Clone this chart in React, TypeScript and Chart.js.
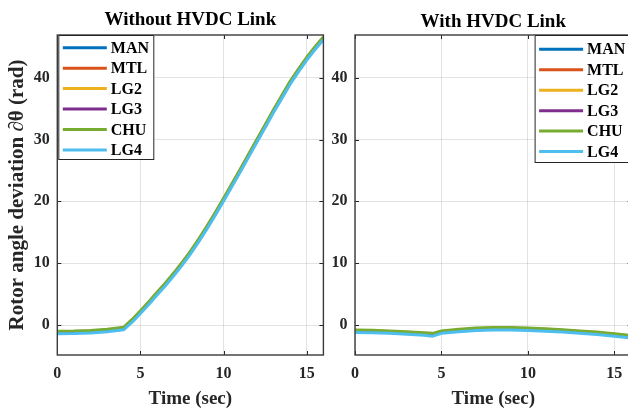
import React, { useEffect, useRef } from "react";
import { Chart, registerables } from "chart.js";

Chart.register(...registerables);

const FONT = "'Liberation Serif', 'Times New Roman', serif";

const seriesNames = ["MAN", "MTL", "LG2", "LG3", "CHU", "LG4"];
const seriesColors = ["#0072BD", "#D95319", "#EDB120", "#7E2F8E", "#77AC30", "#4DBEEE"];
const xTicks = [0, 5, 10, 15];
const yTicks = [0, 10, 20, 30, 40];
const titles = ["Without HVDC Link", "With HVDC Link"];
const xLabel = "Time (sec)";
const yLabel = "Rotor angle deviation \u2202\u03B8 (rad)";

// Without HVDC link
const timeWithout = [0, 1, 2, 3, 4, 4.5, 5, 5.5, 6, 6.5, 7, 7.5, 8, 8.5, 9, 9.5, 10, 10.5, 11, 11.5, 12, 12.5, 13, 13.5, 14, 14.5, 15, 15.5, 16];
const manWithout = [-1.2, -1.17, -1.08, -0.9, -0.55, 0.7, 2.1, 3.55, 5.1, 6.6, 8.2, 9.9, 11.7, 13.7, 15.8, 18.0, 20.3, 22.65, 25.0, 27.4, 29.8, 32.2, 34.6, 36.9, 39.2, 41.2, 43.1, 44.8, 46.4];
const mtlWithout = [-1.15, -1.12, -1.03, -0.85, -0.5, 0.75, 2.15, 3.6, 5.15, 6.65, 8.25, 9.95, 11.75, 13.75, 15.85, 18.05, 20.35, 22.7, 25.05, 27.45, 29.85, 32.25, 34.65, 36.95, 39.25, 41.25, 43.15, 44.85, 46.45];
const lg2Without = [-1.1, -1.07, -0.98, -0.8, -0.45, 0.8, 2.2, 3.65, 5.2, 6.7, 8.3, 10.0, 11.8, 13.8, 15.9, 18.1, 20.4, 22.75, 25.1, 27.5, 29.9, 32.3, 34.7, 37.0, 39.3, 41.3, 43.2, 44.9, 46.5];
const lg3Without = [-1.25, -1.22, -1.13, -0.95, -0.6, 0.65, 2.05, 3.5, 5.05, 6.55, 8.15, 9.85, 11.65, 13.65, 15.75, 17.95, 20.25, 22.6, 24.95, 27.35, 29.75, 32.15, 34.55, 36.85, 39.15, 41.15, 43.05, 44.75, 46.35];
const chuWithout = [-1.0, -0.97, -0.88, -0.7, -0.35, 0.9, 2.3, 3.75, 5.3, 6.8, 8.4, 10.1, 11.9, 13.9, 16.0, 18.2, 20.5, 22.85, 25.2, 27.6, 30.0, 32.4, 34.8, 37.1, 39.4, 41.4, 43.3, 45.0, 46.6];
const lg4Without = [-1.4, -1.37, -1.28, -1.1, -0.75, 0.45, 1.85, 3.3, 4.85, 6.35, 7.95, 9.65, 11.45, 13.45, 15.55, 17.75, 20.05, 22.4, 24.75, 27.15, 29.55, 31.95, 34.35, 36.65, 38.95, 40.95, 42.85, 44.55, 46.15];

// With HVDC link
const timeWith = [0, 1, 2, 3, 4, 4.5, 5, 6, 7, 8, 9, 10, 11, 12, 13, 14, 15, 16];
const manWith = [-1.0, -1.05, -1.15, -1.3, -1.45, -1.55, -1.15, -0.9, -0.7, -0.62, -0.6, -0.7, -0.8, -0.95, -1.15, -1.35, -1.6, -1.9];
const mtlWith = [-0.95, -1.0, -1.1, -1.25, -1.4, -1.5, -1.1, -0.85, -0.65, -0.57, -0.55, -0.65, -0.75, -0.9, -1.1, -1.3, -1.55, -1.85];
const lg2With = [-0.9, -0.95, -1.05, -1.2, -1.35, -1.45, -1.05, -0.8, -0.6, -0.52, -0.5, -0.6, -0.7, -0.85, -1.05, -1.25, -1.5, -1.8];
const lg3With = [-1.05, -1.1, -1.2, -1.35, -1.5, -1.6, -1.2, -0.95, -0.75, -0.67, -0.65, -0.75, -0.85, -1.0, -1.2, -1.4, -1.65, -1.95];
const chuWith = [-0.8, -0.85, -0.95, -1.1, -1.25, -1.35, -0.95, -0.7, -0.5, -0.42, -0.4, -0.5, -0.6, -0.75, -0.95, -1.15, -1.4, -1.7];
const lg4With = [-1.2, -1.25, -1.35, -1.5, -1.65, -1.8, -1.35, -1.1, -0.9, -0.82, -0.8, -0.9, -1.0, -1.15, -1.35, -1.55, -1.8, -2.1];

const yMin = -4.85;
const yMax = 46.9;
const xMin = 0;
const xMax = 16;

const GRID = "rgba(38,38,38,0.13)";
const AXIS = "#262626";

const boxPlugin = {
  id: "matlabBox",
  afterDatasetsDraw(chart: any) {
    const { ctx, chartArea, scales } = chart;
    const { left, right, top, bottom } = chartArea;
    ctx.save();
    ctx.strokeStyle = AXIS;
    ctx.lineWidth = 1;
    const tl = 4;
    ctx.beginPath();
    xTicks.forEach((v) => {
      const px = Math.round(scales.x.getPixelForValue(v)) + 0.5;
      ctx.moveTo(px, bottom);
      ctx.lineTo(px, bottom - tl);
      ctx.moveTo(px, top);
      ctx.lineTo(px, top + tl);
    });
    yTicks.forEach((v) => {
      const py = Math.round(scales.y.getPixelForValue(v)) + 0.5;
      ctx.moveTo(left, py);
      ctx.lineTo(left + tl, py);
      ctx.moveTo(right, py);
      ctx.lineTo(right - tl, py);
    });
    ctx.stroke();
    ctx.lineWidth = 1.4;
    ctx.strokeStyle = "#3a3a3a";
    ctx.strokeRect(left, top, right - left, bottom - top);
    ctx.restore();
  },
};

const legendPlugin = {
  id: "matlabLegend",
  afterDraw(chart: any, _args: any, opts: any) {
    const { ctx, chartArea } = chart;
    const w = 96;
    const h = opts.height;
    const bx = opts.side === "left" ? chartArea.left + 1 : chartArea.right - 1 - w;
    const by = chartArea.top;
    ctx.save();
    ctx.fillStyle = "#ffffff";
    ctx.fillRect(bx, by, w, h);
    ctx.strokeStyle = AXIS;
    ctx.lineWidth = 1;
    ctx.strokeRect(bx + 0.5, by + 0.5, w - 1, h - 1);
    ctx.font = `bold 16px ${FONT}`;
    ctx.textBaseline = "middle";
    ctx.textAlign = "left";
    chart.data.datasets.forEach((ds: any, i: number) => {
      const y = by + opts.firstRow + i * opts.rowGap;
      ctx.strokeStyle = ds.borderColor;
      ctx.lineWidth = 3;
      ctx.beginPath();
      ctx.moveTo(bx + 4.5, y);
      ctx.lineTo(bx + 48.5, y);
      ctx.stroke();
      ctx.fillStyle = "#000000";
      ctx.fillText(ds.label, bx + 52.5, y + 1);
    });
    ctx.restore();
  },
};

function makeConfig(p: any) {
  const tickFont = { family: FONT, size: 16, weight: "bold" as const };
  return {
    type: "line" as const,
    data: {
      datasets: p.series.map((vals: number[], i: number) => ({
        label: seriesNames[i],
        data: p.time.map((t: number, k: number) => ({ x: t, y: vals[k] })),
        borderColor: seriesColors[i],
        backgroundColor: seriesColors[i],
        borderWidth: 3,
        pointRadius: 0,
        tension: 0,
        fill: false,
        borderJoinStyle: "round",
        order: seriesNames.length - i,
      })),
    },
    options: {
      responsive: false,
      animation: false,
      devicePixelRatio: 1,
      events: [],
      layout: { padding: { left: 0, right: p.padRight, top: 0, bottom: 0 } },
      plugins: {
        legend: { display: false },
        tooltip: { enabled: false },
        title: {
          display: true,
          fullSize: false,
          text: p.title,
          color: "#000000",
          font: { family: FONT, size: 19, weight: "bold", lineHeight: 1.2 },
          padding: { top: p.titleTop, bottom: 35 - 22.8 - p.titleTop },
        },
        matlabLegend: p.legend,
      },
      scales: {
        x: {
          type: "linear",
          min: xMin,
          max: xMax,
          afterBuildTicks: (s: any) => {
            s.ticks = xTicks.map((v) => ({ value: v }));
          },
          afterFit: (s: any) => {
            s.height = 54;
          },
          grid: { color: GRID, lineWidth: 1, drawTicks: false },
          border: { display: false },
          ticks: { color: AXIS, font: tickFont, padding: 9, maxRotation: 0, autoSkip: false },
          title: {
            display: true,
            text: xLabel,
            color: AXIS,
            font: { family: FONT, size: 19, weight: "bold", lineHeight: 1 },
            padding: { top: 0, bottom: 0.5 },
          },
        },
        y: {
          type: "linear",
          min: yMin,
          max: yMax,
          afterBuildTicks: (s: any) => {
            s.ticks = yTicks.map((v) => ({ value: v }));
          },
          afterFit: (s: any) => {
            s.width = p.yWidth;
          },
          grid: { color: GRID, lineWidth: 1, drawTicks: false },
          border: { display: false },
          ticks: { color: AXIS, font: tickFont, padding: 7.5, autoSkip: false },
          title: {
            display: p.showYTitle,
            text: yLabel,
            color: AXIS,
            font: { family: FONT, size: 21, weight: "bold", lineHeight: 1 },
            padding: { top: 7.5, bottom: 0 },
          },
        },
      },
    },
    plugins: [boxPlugin, legendPlugin],
  };
}

export default function App() {
  const leftRef = useRef<HTMLCanvasElement>(null);
  const rightRef = useRef<HTMLCanvasElement>(null);

  useEffect(() => {
    const left = new Chart(
      leftRef.current as HTMLCanvasElement,
      makeConfig({
        title: titles[0],
        time: timeWithout,
        series: [manWithout, mtlWithout, lg2Without, lg3Without, chuWithout, lg4Without],
        padRight: 56.6,
        yWidth: 57.3,
        titleTop: 8.6,
        showYTitle: true,
        legend: { side: "left", height: 125, firstRow: 12.7, rowGap: 20.45 },
      }) as any
    );
    const right = new Chart(
      rightRef.current as HTMLCanvasElement,
      makeConfig({
        title: titles[1],
        time: timeWith,
        series: [manWith, mtlWith, lg2With, lg3With, chuWith, lg4With],
        padRight: 32.4,
        yWidth: 32,
        titleTop: 10.6,
        showYTitle: false,
        legend: { side: "right", height: 128, firstRow: 14.3, rowGap: 20.45 },
      }) as any
    );
    return () => {
      left.destroy();
      right.destroy();
    };
  }, []);

  return (
    <div
      style={{
        position: "fixed",
        left: 0,
        top: 0,
        width: 628,
        height: 409,
        overflow: "hidden",
        background: "#ffffff",
      }}
    >
      <canvas ref={leftRef} width={380} height={409} style={{ position: "absolute", left: 0, top: 0 }} />
      <canvas ref={rightRef} width={341} height={409} style={{ position: "absolute", left: 323, top: 0 }} />
    </div>
  );
}
